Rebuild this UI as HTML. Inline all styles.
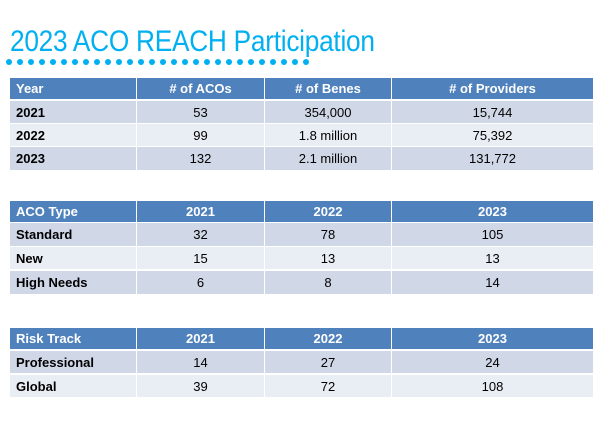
<!DOCTYPE html>
<html><head><meta charset="utf-8"><style>
body{margin:0;width:600px;height:427px;background:#fff;position:relative;overflow:hidden;font-family:"Liberation Sans",sans-serif}
.t{position:absolute;left:10px;width:583px}
.r{position:absolute;left:0;width:583px;height:22px}
.c{position:absolute;top:0;height:100%;display:flex;align-items:center;justify-content:center;font-size:13px;color:#000;box-sizing:border-box}
.c.l{justify-content:flex-start;padding-left:6px;font-weight:bold}
.h{background:#4f81bd}.h .c{color:#fff;font-weight:bold}
.a{background:#d0d8e8}.b{background:#e9edf4}
.dot{position:absolute;width:6px;height:6px;border-radius:50%;background:#00b0f0;top:59px}
</style></head><body>
<div style="position:absolute;left:10px;top:25px;font-size:30px;color:#00b0f0;white-space:nowrap;letter-spacing:-0.3px;transform:scaleX(0.875);transform-origin:0 0">2023 ACO REACH Participation</div>
<div id="dots"></div>
<div id="tables"></div>
<script>
const dots=document.getElementById('dots');
for(let i=0;i<28;i++){const d=document.createElement('div');d.className='dot';d.style.left=(6+i*11.0)+'px';


dots.appendChild(d);}
const cols=[[0,126],[126,254],[254,381],[381,583]];
const tables=[
 {name:'participation-table',top:78,rows:[['Year','# of ACOs','# of Benes','# of Providers'],['2021','53','354,000','15,744'],['2022','99','1.8 million','75,392'],['2023','132','2.1 million','131,772']],ys:[0,23,46,69],hs:[21,22,22,23]},
 {name:'aco-type-table',top:201,rows:[['ACO  Type','2021','2022','2023'],['Standard','32','78','105'],['New','15','13','13'],['High Needs','6','8','14']],ys:[0,22,46,70],hs:[21,23,22,23]},
 {name:'risk-track-table',top:328,rows:[['Risk Track','2021','2022','2023'],['Professional','14','27','24'],['Global','39','72','108']],ys:[0,23,47],hs:[21,22,22]}
];
const host=document.getElementById('tables');
tables.forEach(t=>{
 const tb=document.createElement('div');tb.className='t';tb.style.top=t.top+'px';
 
 
 t.rows.forEach((row,ri)=>{
  const r=document.createElement('div');r.className='r '+(ri==0?'h':(ri%2?'a':'b'));
  r.style.top=t.ys[ri]+'px';r.style.height=t.hs[ri]+'px';
  
  
  row.forEach((v,ci)=>{
   const c=document.createElement('div');c.className='c'+(ci==0?' l':'');
   c.style.left=cols[ci][0]+'px';c.style.width=(cols[ci][1]-cols[ci][0])+'px';
   if(ci>0)c.style.borderLeft='1px solid #fff';
   c.textContent=v;
   
   
   r.appendChild(c);
  });
  tb.appendChild(r);
 });
 host.appendChild(tb);
});
</script>
</body></html>
